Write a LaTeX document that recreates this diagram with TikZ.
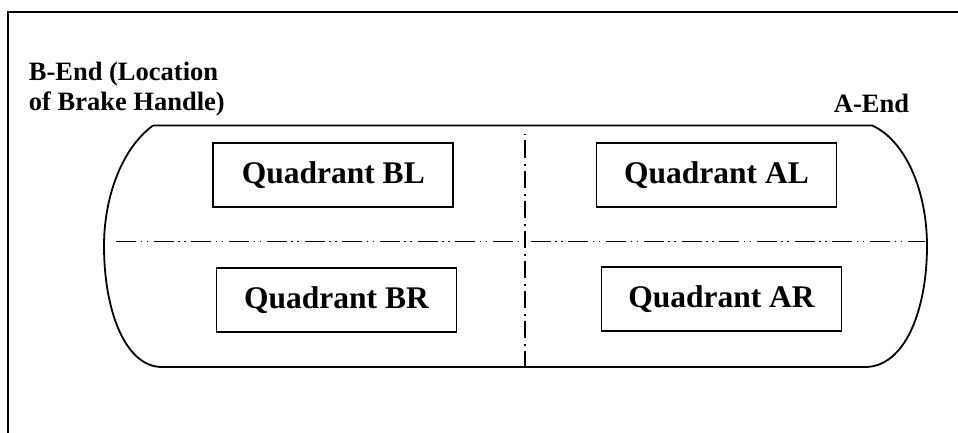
\documentclass[tikz,border=0pt]{standalone}
\usepackage{fontspec}
\setmainfont{Liberation Serif}

\begin{document}
\begin{tikzpicture}[x=1pt,y=-1pt,line width=1.8pt,
        quad/.style = {draw,minimum width=240pt,minimum height=64pt,inner sep=0pt,
                       font=\fontsize{31.5}{36}\selectfont\bfseries},
        endlabel/.style = {inner sep=0pt,align=left,
                       font=\fontsize{26.5}{30}\selectfont\bfseries},
        centreline/.style = {line width=1.6pt}]

        \useasboundingbox (0,0) rectangle (958,433);

        % Frame
        \draw (958,12) -- (8,12) -- (8,433);

        % Car body
        \draw (153,125.5) -- (872,125.5)
              .. controls (905,140) and (927,190) .. (927,246)
              .. controls (927,310) and (905,367) .. (865,367)
              -- (162,367)
              .. controls (125,367) and (104,310) .. (104,246)
              .. controls (104,200) and (120,150) .. (153,125.5);

        % Centre lines
        \coordinate (west) at (116,241.5);
        \coordinate (east) at (925,241.5);
        \coordinate (top) at (525,134);
        \coordinate (bottom) at (525,367);
        \draw[centreline,dash pattern=on 20pt off 4.5pt on 1.5pt off 4.5pt on 1.5pt off 5.7pt] (west) -- (east);
        \draw[centreline,dash pattern=on 1.5pt off 5pt on 17pt off 6.5pt] (top) -- (bottom);

        % Quadrants
        \node [quad] (BL) at (333.3,175.3) {Quadrant BL};
        \node [quad] (AL) at (716.5,175.2) {Quadrant AL};
        \node [quad] (BR) at (336.5,300.2) {Quadrant BR};
        \node [quad] (AR) at (721.5,299.3) {Quadrant AR};

        % End labels
        \node [endlabel,anchor=north west] (Bend) at (28,61.5) {B-End (Location\\of Brake Handle)};
        \node [endlabel,anchor=base west] (Aend) at (833,113) {A-End};

    \end{tikzpicture}
\end{document}
